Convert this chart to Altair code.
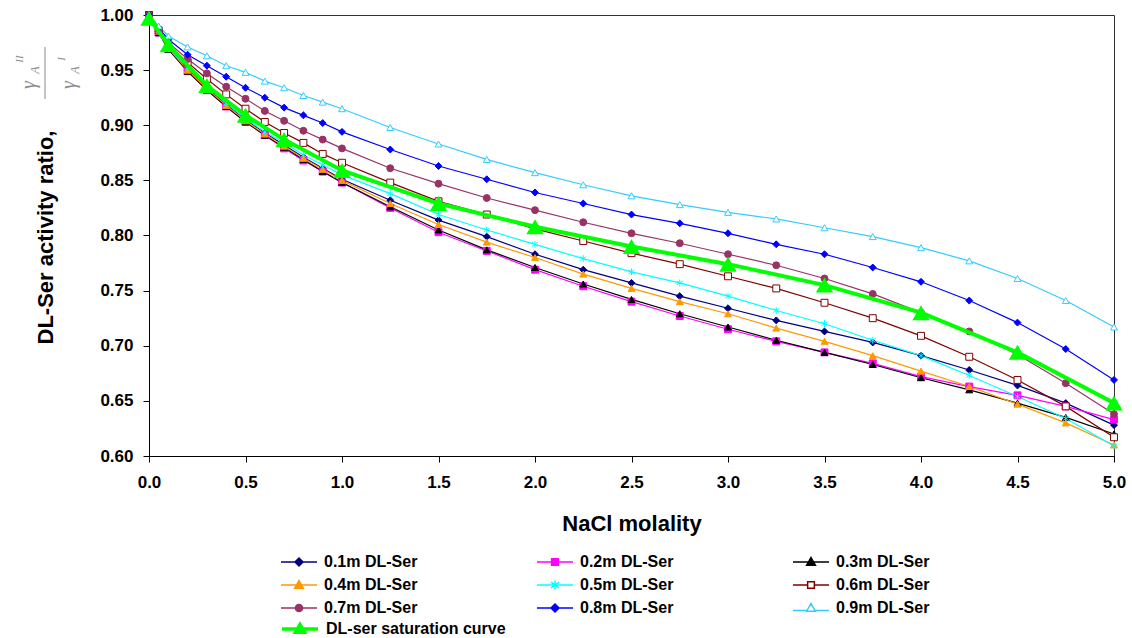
import altair as alt
import pandas as pd

# ---------------- data ----------------
molality = [0, 0.05, 0.1, 0.2, 0.3, 0.4, 0.5, 0.6, 0.7, 0.8, 0.9, 1.0,
            1.25, 1.5, 1.75, 2.0, 2.25, 2.5, 2.75, 3.0, 3.25, 3.5, 3.75,
            4.0, 4.25, 4.5, 4.75, 5.0]

ser_01 = [1.000, 0.985, 0.971, 0.951, 0.934, 0.919, 0.905, 0.893, 0.882, 0.871, 0.861, 0.851,
          0.832, 0.814, 0.799, 0.783, 0.769, 0.757, 0.745, 0.734, 0.723, 0.713, 0.703,
          0.691, 0.678, 0.664, 0.648, 0.628]
ser_02 = [1.000, 0.984, 0.969, 0.949, 0.932, 0.917, 0.903, 0.891, 0.879, 0.868, 0.858, 0.848,
          0.825, 0.803, 0.786, 0.769, 0.754, 0.740, 0.727, 0.715, 0.704, 0.694, 0.684,
          0.672, 0.663, 0.655, 0.645, 0.633]
ser_03 = [1.000, 0.984, 0.969, 0.949, 0.932, 0.917, 0.903, 0.891, 0.880, 0.869, 0.858, 0.848,
          0.826, 0.805, 0.787, 0.771, 0.756, 0.742, 0.729, 0.717, 0.705, 0.694, 0.683,
          0.671, 0.660, 0.648, 0.635, 0.620]
ser_04 = [1.000, 0.985, 0.970, 0.950, 0.933, 0.918, 0.904, 0.892, 0.881, 0.870, 0.860, 0.850,
          0.829, 0.810, 0.794, 0.780, 0.765, 0.752, 0.740, 0.729, 0.716, 0.704, 0.691,
          0.677, 0.663, 0.647, 0.630, 0.610]
ser_05 = [1.000, 0.985, 0.971, 0.952, 0.935, 0.920, 0.906, 0.894, 0.884, 0.873, 0.864, 0.855,
          0.838, 0.819, 0.805, 0.792, 0.779, 0.767, 0.757, 0.745, 0.732, 0.720, 0.705,
          0.691, 0.673, 0.654, 0.634, 0.609]
ser_06 = [1.000, 0.986, 0.973, 0.957, 0.942, 0.928, 0.915, 0.903, 0.893, 0.884, 0.874, 0.866,
          0.848, 0.831, 0.819, 0.806, 0.795, 0.784, 0.774, 0.763, 0.752, 0.739, 0.725,
          0.709, 0.690, 0.669, 0.645, 0.617]
ser_07 = [1.000, 0.987, 0.975, 0.960, 0.947, 0.935, 0.924, 0.913, 0.904, 0.895, 0.887, 0.879,
          0.861, 0.847, 0.834, 0.823, 0.812, 0.802, 0.793, 0.783, 0.773, 0.761, 0.747,
          0.730, 0.713, 0.692, 0.666, 0.638]
ser_08 = [1.000, 0.988, 0.978, 0.964, 0.954, 0.944, 0.934, 0.925, 0.916, 0.909, 0.902, 0.894,
          0.878, 0.863, 0.851, 0.839, 0.829, 0.819, 0.811, 0.802, 0.792, 0.783, 0.771,
          0.758, 0.741, 0.721, 0.697, 0.669]
ser_09 = [1.000, 0.990, 0.981, 0.971, 0.963, 0.954, 0.948, 0.940, 0.934, 0.927, 0.921, 0.915,
          0.898, 0.883, 0.869, 0.857, 0.846, 0.836, 0.828, 0.821, 0.815, 0.807, 0.799,
          0.789, 0.777, 0.761, 0.741, 0.717]

sat_molality = [0, 0.1, 0.3, 0.5, 0.7, 1.0, 1.5, 2.0, 2.5, 3.0, 3.5, 4.0, 4.5, 5.0]
sat_ratio = [0.997, 0.973, 0.936, 0.909, 0.887, 0.859, 0.829, 0.808, 0.790, 0.774,
             0.755, 0.730, 0.694, 0.648]

series_names = ["0.1m DL-Ser", "0.2m DL-Ser", "0.3m DL-Ser",
                "0.4m DL-Ser", "0.5m DL-Ser", "0.6m DL-Ser",
                "0.7m DL-Ser", "0.8m DL-Ser", "0.9m DL-Ser"]
sat_name = "DL-ser saturation curve"

x_ticks = [0, 0.5, 1.0, 1.5, 2.0, 2.5, 3.0, 3.5, 4.0, 4.5, 5.0]
y_ticks = [0.60, 0.65, 0.70, 0.75, 0.80, 0.85, 0.90, 0.95, 1.00]

# ---------------- styles ----------------
colors = ["#000080", "#FF00FF", "#000000", "#FF9900", "#00FFFF",
          "#800000", "#993366", "#0000FF", "#33CCFF"]
fills = ["#000080", "#FF00FF", "#000000", "#FF9900", "#00FFFF",
         "#FFFFFF", "#993366", "#0000FF", "#FFFFFF"]
asterisk = "M0,-1L0,1M-0.85,-0.6L0.85,0.6M-0.85,0.6L0.85,-0.6"
shapes = ["diamond", "square", "triangle-up", "triangle-up", asterisk,
          "square", "circle", "diamond", "triangle-up"]

# legend symbol paths: a line segment with the marker in the middle
L = "M-2.25,0L2.25,0"
leg_paths = [
    L + "M0,-0.5L0.5,0L0,0.5L-0.5,0Z",
    L + "M-0.42,-0.42L0.42,-0.42L0.42,0.42L-0.42,0.42Z",
    L + "M0,-0.55L0.55,0.4L-0.55,0.4Z",
    L + "M0,-0.55L0.55,0.4L-0.55,0.4Z",
    L + "M0,-0.55L0,0.55M-0.5,-0.35L0.5,0.35M-0.5,0.35L0.5,-0.35",
    "M-2.25,0L-0.42,0M0.42,0L2.25,0M-0.42,-0.42L0.42,-0.42L0.42,0.42L-0.42,0.42Z",
    L + "M-0.45,0A0.45,0.45 0 1,0 0.45,0A0.45,0.45 0 1,0 -0.45,0Z",
    L + "M0,-0.5L0.5,0L0,0.5L-0.5,0Z",
    "M-2.25,0.3L-0.5,0.3M0.5,0.3L2.25,0.3M0,-0.55L0.55,0.4L-0.55,0.4Z",
]
sat_path = "M-2.25,0L2.25,0M0,-0.55L0.55,0.4L-0.55,0.4Z"

FONT = "Liberation Sans"

rows = []
for name, vals in zip(series_names, [ser_01, ser_02, ser_03, ser_04, ser_05,
                                     ser_06, ser_07, ser_08, ser_09]):
    for m, v in zip(molality, vals):
        rows.append({"series": name, "m": m, "r": v})
df = pd.DataFrame(rows)
df_sat = pd.DataFrame({"series": [sat_name] * len(sat_molality),
                       "m": sat_molality, "r": sat_ratio})


def pick(names, vals):
    arr = "[" + ",".join("'" + str(v) + "'" for v in vals) + "]"
    keys = "[" + ",".join("'" + n + "'" for n in names) + "]"
    return {"expr": arr + "[indexof(" + keys + ", datum.value)]"}


x_enc = alt.X("m:Q", scale=alt.Scale(domain=[0, 5], nice=False, zero=False),
              axis=alt.Axis(values=x_ticks, format=".1f", title="NaCl molality",
                            labelFlush=False, titleY=67, titleBaseline="middle"))
y_enc = alt.Y("r:Q", scale=alt.Scale(domain=[0.6, 1.0], nice=False, zero=False),
              axis=alt.Axis(values=y_ticks, format=".2f", labelFlush=False,
                            title="DL-Ser activity ratio,",
                            titleAngle=270, titleX=-104, titleY=222, titleAlign="center",
                            titleBaseline="middle"))

legend_main = alt.Legend(
    title=None, orient="none", legendX=141, legendY=538, columns=3,
    direction="horizontal",
    columnPadding=116, rowPadding=6, padding=0, symbolSize=256, labelOffset=16,
    labelFont=FONT, labelFontSize=16, labelFontWeight="bold", labelColor="#000",
    symbolType=pick(series_names, leg_paths),
    symbolFillColor=pick(series_names, fills),
    symbolStrokeColor=pick(series_names, colors),
    symbolStrokeWidth=1.5, symbolOpacity=1)

legend_sat = alt.Legend(
    title=None, orient="none", legendX=141, legendY=604, padding=0,
    symbolSize=256, labelOffset=16, labelLimit=400,
    labelFont=FONT, labelFontSize=16, labelFontWeight="bold", labelColor="#000",
    symbolType=sat_path, symbolFillColor="#00FF00", symbolStrokeColor="#00FF00",
    symbolStrokeWidth=3.5, symbolOpacity=1)

lines = alt.Chart(df).mark_line(strokeWidth=1.2).encode(
    x=x_enc, y=y_enc,
    color=alt.Color("series:N", scale=alt.Scale(domain=series_names, range=colors),
                    legend=legend_main))

points = alt.Chart(df).mark_point(size=48, strokeWidth=1, opacity=1).encode(
    x="m:Q", y="r:Q",
    shape=alt.Shape("series:N", scale=alt.Scale(domain=series_names, range=shapes), legend=None),
    stroke=alt.Stroke("series:N", scale=alt.Scale(domain=series_names, range=colors), legend=None),
    fill=alt.Fill("series:N", scale=alt.Scale(domain=series_names, range=fills), legend=None))

sat_line = alt.Chart(df_sat).mark_line(strokeWidth=4).encode(
    x="m:Q", y="r:Q",
    color=alt.Color("series:N", scale=alt.Scale(domain=[sat_name], range=["#00FF00"]),
                    legend=legend_sat))

sat_pts = alt.Chart(df_sat).mark_point(shape="triangle-up", filled=True, size=300,
                                        color="#00FF00", opacity=1).encode(
    x="m:Q", y="r:Q")

# y-title fraction  (gamma_A^II / gamma_A^I)
one = pd.DataFrame({"k": [0]})
frac_font = "Liberation Serif"
gray = "#8a8a8a"


def txt(t, xv, yv, size):
    return alt.Chart(one).mark_text(angle=270, font=frac_font, fontStyle="italic",
                                    fontSize=size, color=gray, align="center",
                                    baseline="middle").encode(
        x=alt.value(xv), y=alt.value(yv), text=alt.value(t))


frac = [
    txt("γ", -120, 70, 20), txt("A", -114, 55, 12), txt("II", -129, 44, 11),
    txt("γ", -80, 70, 20), txt("A", -74, 55, 12), txt("I", -87, 44, 11),
]
frac_line = alt.Chart(one).mark_rule(color=gray, strokeWidth=1).encode(
    x=alt.value(-104), y=alt.value(32), y2=alt.value(84))

chart = alt.layer(lines, points, sat_line, sat_pts, frac_line, *frac).resolve_scale(
    color="independent"
).properties(
    width=965, height=441,
    autosize=alt.AutoSizeParams(type="none"),
    padding={"left": 149, "top": 15, "right": 18, "bottom": 182},
).configure_view(
    stroke="#333333", strokeWidth=1
).configure_axis(
    grid=False, domainColor="#000", domainWidth=1, tickColor="#000", tickSize=6,
    labelFont=FONT, labelFontSize=17, labelFontWeight="bold", labelColor="#000",
    titleFont=FONT, titleFontSize=22, titleFontWeight="bold", titleColor="#000"
).configure_axisX(labelPadding=12).configure_axisY(labelPadding=10)

chart.save("out.html", embed_options={"renderer": "svg", "actions": False})
